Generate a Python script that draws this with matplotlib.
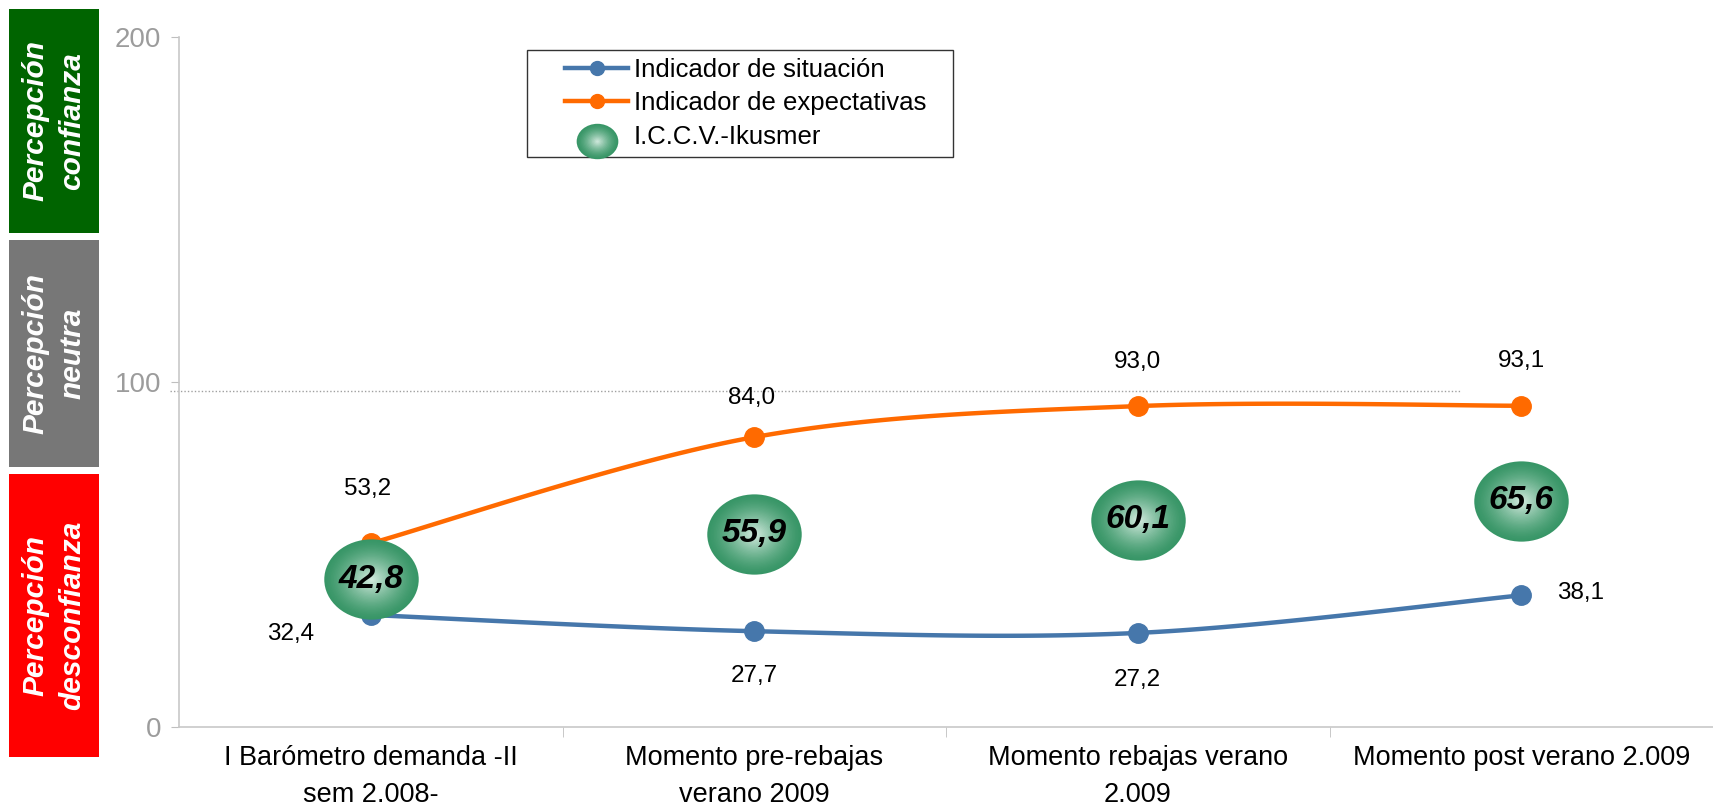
import numpy as np
import matplotlib
matplotlib.use('Agg')
import matplotlib.pyplot as plt
from matplotlib.path import Path
from matplotlib.markers import MarkerStyle
from matplotlib.lines import Line2D
from matplotlib.legend_handler import HandlerBase, HandlerLine2D
from matplotlib.patches import Rectangle

plt.rcParams['font.family'] = ['Liberation Sans', 'DejaVu Sans']

categories = ['I Barómetro demanda -II\nsem 2.008-', 'Momento pre-rebajas\nverano 2009',
              'Momento rebajas verano\n2.009', 'Momento post verano 2.009']
situacion = [32.4, 27.7, 27.2, 38.1]
expectativas = [53.2, 84.0, 93.0, 93.1]
iccv = [42.8, 55.9, 60.1, 65.6]
series_names = ['Indicador de situación', 'Indicador de expectativas', 'I.C.C.V.-Ikusmer']
zone_labels = ['Percepción\nconfianza', 'Percepción\nneutra', 'Percepción\ndesconfianza']
y_ticks = [0, 100, 200]
neutral_line = 97.5

blue = '#4677AB'
orange = '#FF6A00'
edge_c = np.array([0x38, 0x96, 0x67]) / 255
center_c = np.array([0xd8, 0xed, 0xe2]) / 255


def fmt(v):
    return ('%.1f' % v).replace('.', ',')


def smooth(xs, ys, n=40):
    # bezier through the points, like excel "smoothed line"
    pts = np.column_stack([xs, ys]).astype(float)
    out = []
    for i in range(len(pts) - 1):
        p0 = pts[max(i - 1, 0)]
        p1 = pts[i]
        p2 = pts[i + 1]
        p3 = pts[min(i + 2, len(pts) - 1)]
        c1 = p1 + (p2 - p0) / 6
        c2 = p2 - (p3 - p1) / 6
        t = np.linspace(0, 1, n)[:, None]
        seg = (1-t)**3*p1 + 3*(1-t)**2*t*c1 + 3*(1-t)*t**2*c2 + t**3*p2
        out.append(seg if i == 0 else seg[1:])
    out = np.vstack(out)
    return out[:, 0], out[:, 1]


circ = Path.unit_circle()
ell_marker = MarkerStyle(Path(circ.vertices * [1, 0.85], circ.codes))


def ring_color(t):
    return edge_c + (center_c - edge_c) * t**1.4


fig = plt.figure(figsize=(17.13, 8.05), dpi=100)
ax = fig.add_axes([0.1045, 0.0973, 0.8955, 0.8564])
x = np.arange(len(categories))

# lines
sx, sy = smooth(x, situacion)
ax.plot(sx, sy, color=blue, lw=3.2, zorder=3, solid_capstyle='round')
ax.plot(x, situacion, 'o', color=blue, ms=14, zorder=3)
ex, ey = smooth(x, expectativas)
ax.plot(ex, ey, color=orange, lw=3.2, zorder=3, solid_capstyle='round')
ax.plot(x, expectativas, 'o', color=orange, ms=14, zorder=3)

# gradient bubbles
bubble_w = 68
n_rings = 30
for k in range(n_rings):
    t = k / n_rings
    ax.scatter(x, iccv, s=(bubble_w * (1 - t))**2, marker=ell_marker,
               color=ring_color(t), linewidths=0, zorder=5 + k * 0.001)
for xi, v in zip(x, iccv):
    ax.text(xi, v, fmt(v), ha='center', va='center', fontsize=24,
            fontweight='bold', fontstyle='italic', zorder=7)

# data labels
sit_off = [(-58, -14), (0, -32), (0, -34), (43, 2)]
exp_off = [(-2, 39), (-2, 28), (0, 32), (0, 32)]
for xi, v, off in zip(x, situacion, sit_off):
    ax.annotate(fmt(v), (xi, v), xytext=off, textcoords='offset points',
                ha='center', va='center', fontsize=17.5, zorder=8)
for xi, v, off in zip(x, expectativas, exp_off):
    ax.annotate(fmt(v), (xi, v), xytext=off, textcoords='offset points',
                ha='center', va='center', fontsize=17.5, zorder=8)

# neutral reference line
ax.axhline(neutral_line, xmin=-0.006, xmax=0.835, color='#A0A0A0', lw=1,
           ls=(0, (1, 1.5)), zorder=1, clip_on=False)

ax.set_xlim(-0.5, 3.5)
ax.set_ylim(0, 200)
ax.set_yticks(y_ticks)
ax.set_xticks(x)
ax.set_xticklabels(categories, fontsize=19.5, linespacing=1.55)
ax.set_xticks([0.5, 1.5, 2.5], minor=True)
ax.tick_params(axis='x', which='major', length=0, pad=13)
ax.tick_params(axis='x', which='minor', length=7, color='#BFBFBF', direction='out')
ax.tick_params(axis='y', length=6, color='#BFBFBF', labelcolor='#9C9C9C',
               labelsize=20, pad=7)
for s in ['top', 'right']:
    ax.spines[s].set_visible(False)
for s in ['left', 'bottom']:
    ax.spines[s].set_color('#C8C8C8')
    ax.spines[s].set_linewidth(1.2)

# coloured zone boxes on the left
zone_colors = ['#006400', '#777777', '#FF0000']
zone_y = [(0.7106, 0.9888), (0.4199, 0.7019), (0.0596, 0.4112)]
for lab, c, (y0, y1) in zip(zone_labels, zone_colors, zone_y):
    fig.add_artist(Rectangle((0.00525, y0), 0.0525, y1 - y0, transform=fig.transFigure,
                             facecolor=c, edgecolor='none'))
    fig.text(0.00525 + 0.0525 / 2, (y0 + y1) / 2, lab, rotation=90, ha='center',
             va='center', color='white', fontsize=21.5, fontweight='bold',
             fontstyle='italic', linespacing=1.4)


# legend
class BubbleHandler(HandlerBase):
    def create_artists(self, legend, orig_handle, xdescent, ydescent, width, height,
                       fontsize, trans):
        arts = []
        for k in range(15):
            t = k / 15
            arts.append(Line2D([-xdescent + width / 2], [-ydescent + height / 2 - 4],
                               marker=ell_marker, markersize=30 * (1 - t),
                               color=ring_color(t), markeredgewidth=0,
                               linestyle='none', transform=trans))
        return arts


h1 = Line2D([], [], color=blue, lw=3.2, marker='o', ms=10)
h2 = Line2D([], [], color=orange, lw=3.2, marker='o', ms=10)
h3 = Line2D([], [], color='green')
leg = fig.legend([h1, h2, h3], series_names, loc='upper left',
                 bbox_to_anchor=(0.3076, 0.9379, 0.2487, 0), mode='expand',
                 borderaxespad=0, fontsize=18.5,
                 handlelength=3.65, handletextpad=0.2, labelspacing=0.38,
                 borderpad=0.3, frameon=True, fancybox=False,
                 handler_map={h1: HandlerLine2D(xpad=1.2), h2: HandlerLine2D(xpad=1.2),
                              h3: BubbleHandler(xpad=1.2)})
leg.get_frame().set_edgecolor('black')
leg.get_frame().set_linewidth(1)

fig.savefig('out.png', dpi=100)
